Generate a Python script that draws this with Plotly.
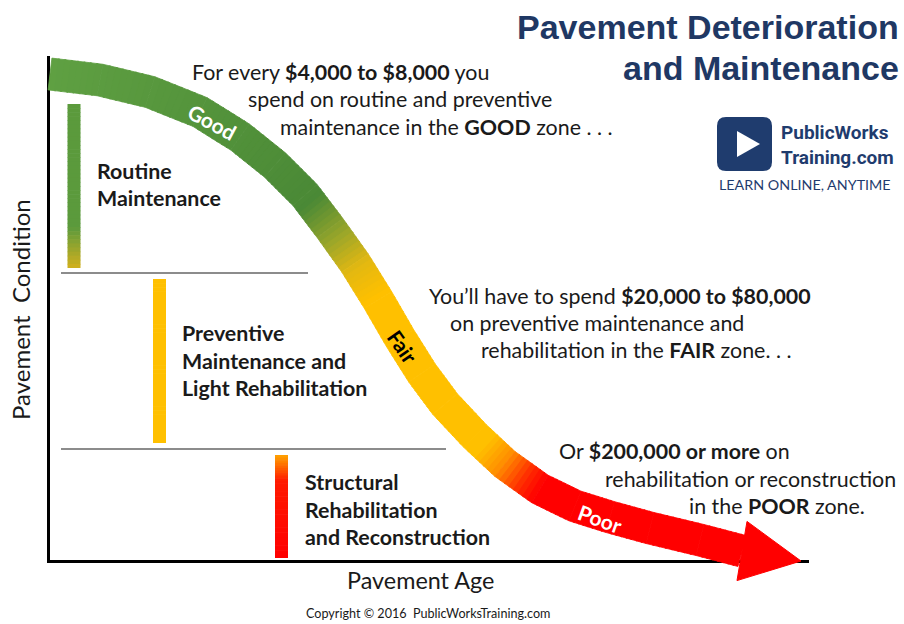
import plotly.graph_objects as go
import math

# ---------------- data (chart units = 904 x 624 canvas) -------------
# centre line of the deterioration curve (pavement age -> pavement condition)
curve_x = [50, 100, 150, 200, 240, 275, 305, 330, 355, 378, 400, 422, 445, 475, 505, 540, 575, 610, 650, 700, 742]
curve_y = [74, 80, 92, 112, 137, 165, 195, 228, 263, 300, 338, 373, 404, 436, 464, 489, 506, 517, 528, 540, 551]
arrow_tip = (801, 561)

# colour stops along the curve (arc length fraction, colour)
curve_stops = [(0.00, "#5FA042"), (0.28, "#4E8D38"), (0.34, "#4A8936"), (0.39, "#9AA62A"),
               (0.43, "#E2B812"), (0.47, "#FFC000"), (0.68, "#FFC000"), (0.71, "#FF8C00"),
               (0.74, "#FF2A00"), (0.76, "#FF0000"), (1.00, "#FF0000")]

# zone bars: x centre, top, bottom, colour stops (fraction from top)
bar_x = [74, 159.5, 281.5]
bar_top = [104, 279, 455]
bar_bottom = [268, 443, 558]
bar_stops = [
    [(0.0, "#5B9A3C"), (0.75, "#5B9A3C"), (1.0, "#D2B01E")],
    [(0.0, "#FFC000"), (1.0, "#FFC000")],
    [(0.0, "#FFA500"), (0.25, "#FF1A00"), (1.0, "#FF0000")],
]

zone_lines_y = [273, 449]
zone_lines_x1 = [308, 446]

zone_labels = [
    (95, [171, 198], ["Routine", "Maintenance"]),
    (180, [333, 361, 388], ["Preventive", "Maintenance and", "Light Rehabilitation"]),
    (303, [482, 510, 537], ["Structural", "Rehabilitation", "and Reconstruction"]),
]

cost_notes = [
    ([190, 246, 278], [72, 99, 127],
     ["For every <b>$4,000 to $8,000</b> you", "spend on routine and preventive",
      "maintenance in the <b>GOOD</b> zone . . ."]),
    ([427, 448, 479], [296, 323, 350],
     ["You’ll have to spend <b>$20,000 to $80,000</b>", "on preventive maintenance and",
      "rehabilitation in the <b>FAIR</b> zone. . ."]),
    ([557, 603, 687], [451, 479, 506],
     ["Or <b>$200,000 or more</b> on", "rehabilitation or reconstruction",
      "in the <b>POOR</b> zone."]),
]

curve_labels = [("Good", 212, 121, 28, "white"), ("Fair", 403, 346, 55, "black"), ("Poor", 600, 518, 20, "white")]

BAND_HALF = 16
ARROW_HALF = 30
FONT = "Lato, 'Open Sans', sans-serif"
LOGO_FONT = "Roboto, sans-serif"


def hex_rgb(h):
    h = h.lstrip("#")
    return tuple(int(h[i:i + 2], 16) for i in (0, 2, 4))


def color_at(stops, t):
    for (t0, c0), (t1, c1) in zip(stops[:-1], stops[1:]):
        if t <= t1:
            f = 0 if t1 == t0 else (t - t0) / (t1 - t0)
            a, b = hex_rgb(c0), hex_rgb(c1)
            return "rgb(%d,%d,%d)" % tuple(round(a[k] + (b[k] - a[k]) * f) for k in range(3))
    return stops[-1][1]


fig = go.Figure()

# ---------------- curve band ----------------
n = len(curve_x)
pts = list(zip(curve_x, curve_y))
normals = []
for i in range(n):
    a = pts[max(i - 1, 0)]
    b = pts[min(i + 1, n - 1)]
    dx, dy = b[0] - a[0], b[1] - a[1]
    L = math.hypot(dx, dy)
    normals.append((-dy / L, dx / L))
seg_len = [math.hypot(pts[i + 1][0] - pts[i][0], pts[i + 1][1] - pts[i][1]) for i in range(n - 1)]
total = sum(seg_len)
acc = 0
SUB = 8
for i in range(n - 1):
    p0, p1 = pts[i], pts[i + 1]
    n0, n1 = normals[i], normals[i + 1]
    for k in range(SUB):
        f0, f1 = k / SUB, (k + 1) / SUB
        f1e = min(1.0, f1 + 0.03)

        def P(f, s):
            cx = p0[0] + (p1[0] - p0[0]) * f
            cy = p0[1] + (p1[1] - p0[1]) * f
            nx = n0[0] + (n1[0] - n0[0]) * f
            ny = n0[1] + (n1[1] - n0[1]) * f
            L = math.hypot(nx, ny)
            return cx + s * BAND_HALF * nx / L, cy + s * BAND_HALF * ny / L
        q = [P(f0, 1), P(f1e, 1), P(f1e, -1), P(f0, -1)]
        t = (acc + seg_len[i] * (f0 + f1) / 2) / total
        c = color_at(curve_stops, t)
        fig.add_trace(go.Scatter(x=[v[0] for v in q] + [q[0][0]], y=[v[1] for v in q] + [q[0][1]],
                                 fill="toself", fillcolor=c, mode="lines", line=dict(color=c, width=0.8),
                                 hoverinfo="skip", showlegend=False))
    acc += seg_len[i]

# arrow head
bx, by = pts[-1]
dx, dy = arrow_tip[0] - bx, arrow_tip[1] - by
L = math.hypot(dx, dy)
nx, ny = -dy / L, dx / L
ax = [bx + ARROW_HALF * nx, arrow_tip[0], bx - ARROW_HALF * nx, bx + ARROW_HALF * nx]
ay = [by + ARROW_HALF * ny, arrow_tip[1], by - ARROW_HALF * ny, by + ARROW_HALF * ny]
fig.add_trace(go.Scatter(x=ax, y=ay, fill="toself", fillcolor="#FF0000", mode="lines",
                         line=dict(color="#FF0000", width=1), hoverinfo="skip", showlegend=False))

shapes = []
# zone bars with gradient
for xc, yt, yb, stops in zip(bar_x, bar_top, bar_bottom, bar_stops):
    steps = 40
    for k in range(steps):
        y0 = yt + (yb - yt) * k / steps
        y1 = yt + (yb - yt) * (k + 1) / steps + 0.6
        c = color_at(stops, (k + 0.5) / steps)
        shapes.append(dict(type="rect", xref="x", yref="y", x0=xc - 6.5, x1=xc + 6.5, y0=y0, y1=min(y1, yb),
                           fillcolor=c, line=dict(width=0), layer="below"))

# zone separators
for yl, x1 in zip(zone_lines_y, zone_lines_x1):
    shapes.append(dict(type="line", xref="x", yref="y", x0=61, x1=x1, y0=yl, y1=yl,
                       line=dict(color="#8C8C8C", width=2)))

# axes (drawn beneath the curve)
shapes.append(dict(type="line", xref="x", yref="y", x0=48.5, x1=48.5, y0=56, y1=563,
                   line=dict(color="black", width=3), layer="below"))
shapes.append(dict(type="line", xref="x", yref="y", x0=47, x1=809, y0=561.5, y1=561.5,
                   line=dict(color="black", width=3), layer="below"))

# logo
shapes.append(dict(type="path", xref="x", yref="y",
                   path="M 726,117 L 763,117 Q 772,117 772,126 L 772,162 Q 772,171 763,171 L 726,171 "
                        "Q 717,171 717,162 L 717,126 Q 717,117 726,117 Z",
                   fillcolor="#1F3C6E", line=dict(width=0)))
shapes.append(dict(type="path", xref="x", yref="y", path="M 737,131 L 760,144 L 737,157 Z",
                   fillcolor="white", line=dict(width=0)))

TXT = 21.4
ann = []
for lx, ys, texts in zone_labels:
    for y, t in zip(ys, texts):
        ann.append(dict(x=lx, y=y, text="<b>%s</b>" % t, xanchor="left", yanchor="middle", showarrow=False,
                        font=dict(family=FONT, size=TXT, color="#1A1A1A")))
for xs, ys, texts in cost_notes:
    for x, y, t in zip(xs, ys, texts):
        ann.append(dict(x=x, y=y, text=t, xanchor="left", yanchor="middle", showarrow=False,
                        font=dict(family=FONT, size=TXT, color="#1A1A1A")))
for t, x, y, ang, col in curve_labels:
    ann.append(dict(x=x, y=y, text="<b>%s</b>" % t, textangle=ang, showarrow=False,
                    font=dict(family=FONT, size=21, color=col)))

ann += [
    dict(x=901, y=27, text="<b>Pavement Deterioration</b>", xanchor="right", yanchor="middle", showarrow=False,
         font=dict(family="Liberation Sans, Arial, sans-serif", size=34, color="#1F3864")),
    dict(x=901, y=68, text="<b>and Maintenance</b>", xanchor="right", yanchor="middle", showarrow=False,
         font=dict(family="Liberation Sans, Arial, sans-serif", size=34, color="#1F3864")),
    dict(x=779, y=132, text="<b>PublicWorks</b>", xanchor="left", yanchor="middle", showarrow=False,
         font=dict(family=LOGO_FONT, size=19, color="#1F3C6E")),
    dict(x=779, y=157, text="<b>Training.com</b>", xanchor="left", yanchor="middle", showarrow=False,
         font=dict(family=LOGO_FONT, size=19, color="#1F3C6E")),
    dict(x=717, y=184, text="LEARN ONLINE, ANYTIME", xanchor="left", yanchor="middle", showarrow=False,
         font=dict(family=FONT, size=14.3, color="#1F3C6E")),
    dict(x=20, y=310, text="Pavement  Condition", textangle=-90, showarrow=False,
         font=dict(family=FONT, size=24, color="#1A1A1A")),
    dict(x=420, y=580, text="Pavement Age", showarrow=False,
         font=dict(family=FONT, size=23.4, color="#1A1A1A")),
    dict(x=428, y=613, text="Copyright © 2016  PublicWorksTraining.com", showarrow=False,
         font=dict(family=FONT, size=12.6, color="#1A1A1A")),
]

fig.update_layout(
    width=904, height=624, margin=dict(l=0, r=0, t=0, b=0),
    paper_bgcolor="white", plot_bgcolor="white",
    xaxis=dict(range=[0, 904], visible=False, fixedrange=True),
    yaxis=dict(range=[624, 0], visible=False, fixedrange=True),
    shapes=shapes, annotations=ann, showlegend=False,
)

fig.write_html("out.html", config={"displayModeBar": False},
               post_script="document.body.style.margin='0';document.body.style.overflow='hidden';")
